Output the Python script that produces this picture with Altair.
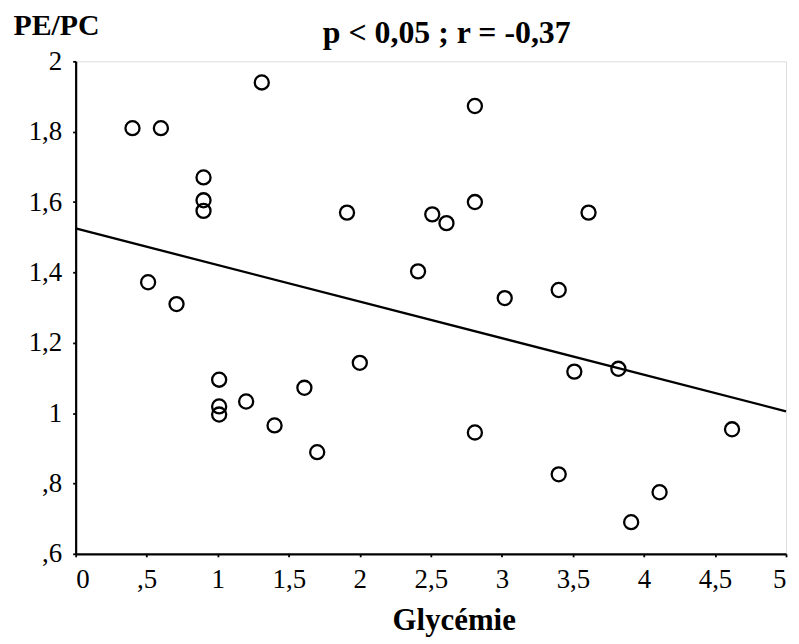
import altair as alt
import pandas as pd

# Data
glycemie = [0.40, 0.60, 1.31, 0.90, 0.90, 0.90, 0.51, 0.71, 1.01, 1.01, 1.01,
            1.20, 1.40, 1.61, 2.00, 1.70, 1.91, 2.51, 2.61, 2.81, 3.61, 2.41,
            3.02, 3.40, 3.51, 3.82, 2.81, 4.62, 3.40, 4.11, 3.91, 2.81]
pe_pc = [1.81, 1.81, 1.94, 1.67, 1.605, 1.575, 1.372, 1.31, 1.095, 1.019, 0.996,
         1.033, 0.965, 1.072, 1.143, 0.889, 1.57, 1.565, 1.54, 1.60, 1.57, 1.403,
         1.327, 1.35, 1.118, 1.126, 0.945, 0.954, 0.826, 0.775, 0.69, 1.873]

fit_x = [0.0, 5.0]
fit_y = [1.525, 1.005]

# tick positions (major ones are labelled, the in-between ones are minor ticks)
x_ticks = [0, 0.25, 0.5, 0.75, 1, 1.25, 1.5, 1.75, 2, 2.25, 2.5, 2.75, 3, 3.25,
           3.5, 3.75, 4, 4.25, 4.5, 4.75, 5]
y_ticks = [0.6, 0.7, 0.8, 0.9, 1.0, 1.1, 1.2, 1.3, 1.4, 1.5, 1.6, 1.7, 1.8, 1.9, 2.0]

title_text = "p < 0,05 ; r = -0,37"
x_title = "Glycémie"
y_title = "PE/PC"

FONT = "Liberation Serif"

pts = pd.DataFrame({"x": glycemie, "y": pe_pc})
fit = pd.DataFrame({"x": fit_x, "y": fit_y})

fmt = ("(datum.value > 0 && datum.value < 1 ? ',' + substring(format(datum.value, '.1f'), 2) "
       ": replace(format(datum.value, '~g'), '.', ','))")
x_label_expr = "abs(datum.value * 2 - round(datum.value * 2)) > 0.001 ? '' : " + fmt
y_label_expr = "abs(datum.value * 5 - round(datum.value * 5)) > 0.001 ? '' : " + fmt

xscale = alt.Scale(domain=[0, 5], nice=False, zero=False)
yscale = alt.Scale(domain=[0.6, 2.0], nice=False, zero=False)

xaxis = alt.Axis(values=x_ticks, labelExpr=x_label_expr, grid=False,
                 title=x_title, titleFont=FONT, titleFontSize=31, titleFontWeight="bold",
                 titleX=380, titleY=76, titleBaseline="alphabetic", titleAlign="center",
                 labelFont=FONT, labelFontSize=27, labelColor="black",
                 labelPadding=10, tickSize=3, tickColor="black", tickWidth=1.8,
                 domainColor="black", domainWidth=2.2, labelOverlap=False)
yaxis = alt.Axis(values=y_ticks, labelExpr=y_label_expr, grid=False,
                 title=y_title, titleFont=FONT, titleFontSize=30, titleFontWeight="bold",
                 titleAngle=0, titleX=-63, titleY=-27, titleAlign="left",
                 titleBaseline="alphabetic",
                 labelFont=FONT, labelFontSize=27, labelColor="black",
                 labelPadding=11, tickSize=3, tickColor="black", tickWidth=1.8,
                 domainColor="black", domainWidth=2.2, labelOverlap=False)

points = alt.Chart(pts).mark_point(
    shape="circle", size=200, filled=False, color="black", strokeWidth=2.3, opacity=1
).encode(
    x=alt.X("x:Q", scale=xscale, axis=xaxis),
    y=alt.Y("y:Q", scale=yscale, axis=yaxis),
)

line = alt.Chart(fit).mark_line(color="black", strokeWidth=2.3).encode(
    x=alt.X("x:Q", scale=xscale),
    y=alt.Y("y:Q", scale=yscale),
)

title = alt.Chart(pd.DataFrame({"t": [title_text]})).mark_text(
    font=FONT, fontSize=32, fontWeight="bold", align="center", baseline="alphabetic",
    color="black"
).encode(text="t:N", x=alt.value(373), y=alt.value(-18))

chart = alt.layer(line, points, title).properties(
    width=714, height=495,
    padding={"left": 68, "top": 52, "right": 5, "bottom": 85},
    autosize=alt.AutoSizeParams(type="none"),
).configure_view(stroke=None).configure(background="white")

chart.save("out.html", embed_options={"renderer": "svg", "actions": False})
